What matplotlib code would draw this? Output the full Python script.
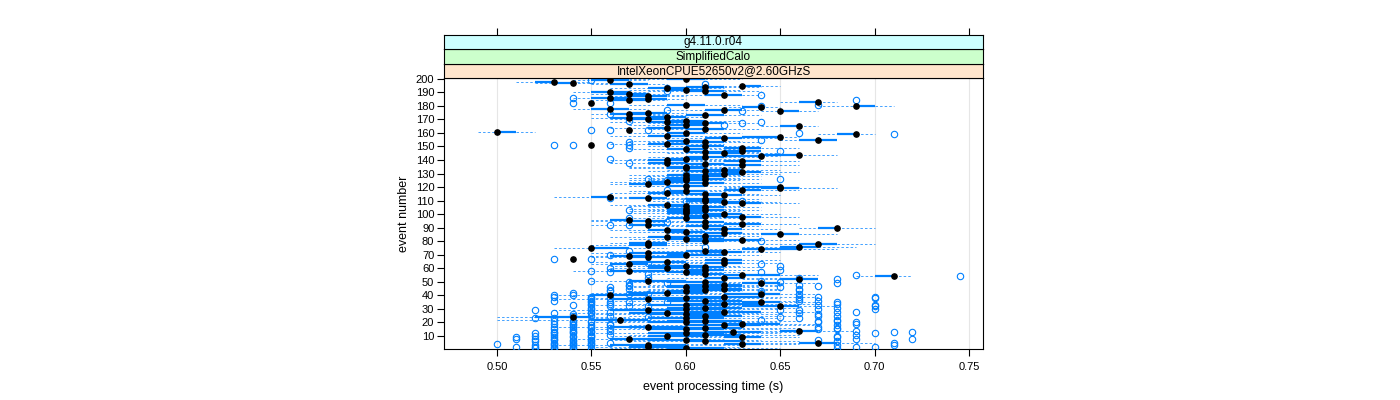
import matplotlib
matplotlib.use("Agg")
import matplotlib.pyplot as plt

plt.rcParams['font.family'] = ['Liberation Sans', 'DejaVu Sans']

# strip labels (top to bottom)
strips = ["g4.11.0.r04", "SimplifiedCalo", "IntelXeonCPUE52650v2@2.60GHzS"]
strip_colors = ["#CCFFFF", "#CCFFCC", "#FFE5CC"]

# per-event box statistics, in units of 0.01 s, events 1..200
med = [60, 58, 58, 63, 67, 61, 60, 57, 63, 59,
       61, 60, 62.5, 66, 60, 61, 58, 62, 63, 60,
       61, 56.5, 60, 54, 61, 60, 59, 62, 58, 60,
       61, 65, 60, 62, 64, 61, 58, 60, 62, 56,
       64, 59, 60, 61, 62, 60, 61, 62, 64, 61,
       58, 66, 62, 71, 63, 61, 60, 57, 61, 59,
       61, 60, 57, 62, 59, 62, 54, 58, 57, 60,
       58, 62, 61, 64, 55, 66, 58, 67, 58, 61,
       63, 60, 59, 61, 65, 62, 60, 59, 62, 68,
       61, 58, 63, 61, 58, 57, 60, 63, 61, 62,
       60, 60, 61, 60, 61, 60, 59, 63, 62, 61,
       61, 58, 56, 62, 61, 59, 60, 63, 65, 65,
       60, 58, 61, 59, 60, 61, 60, 61, 60, 62,
       63, 61, 62, 60, 60, 63, 61, 59, 63, 59,
       60, 61, 64, 66, 62, 61, 63, 60, 63, 61,
       55, 59, 61, 60, 67, 62, 65, 59, 69, 60,
       50, 57, 61, 59, 66, 60, 61, 59, 60, 58,
       57, 59, 61, 57, 58, 65, 62, 56, 64, 69,
       60, 55, 67, 57, 58, 56, 58, 62, 57, 56,
       61, 60, 59, 61, 63, 57, 54, 53, 56, 60]

q1 = [59, 57, 56, 62, 66, 60, 58, 56, 62, 58,
      59, 58, 61, 65, 58, 60, 56, 60, 62, 58,
      59, 55, 58, 52, 60, 58, 57, 60, 56, 59,
      59, 63, 58, 60, 63, 59, 56, 58, 60, 55,
      62, 57, 59, 60, 60, 59, 59, 60, 63, 59,
      57, 65, 61, 70, 62, 60, 59, 56, 60, 58,
      60, 58, 56, 61, 57, 61, 54, 57, 56, 59,
      57, 61, 60, 63, 55, 65, 57, 66, 57, 60,
      62, 59, 58, 60, 64, 61, 59, 58, 61, 67,
      60, 57, 62, 60, 57, 56, 59, 62, 60, 61,
      59, 59, 60, 59, 60, 59, 58, 62, 61, 60,
      60, 57, 55, 61, 60, 58, 59, 62, 64, 63,
      59, 57, 60, 58, 59, 60, 59, 60, 59, 61,
      62, 60, 61, 59, 59, 62, 60, 58, 62, 58,
      59, 60, 62, 64, 61, 60, 62, 59, 62, 60,
      55, 58, 60, 59, 66, 61, 63, 58, 68, 59,
      50, 57, 60, 58, 65, 59, 60, 58, 59, 57,
      56, 58, 60, 56, 57, 65, 61, 55, 63, 69,
      59, 55, 66, 56, 57, 55, 57, 61, 56, 55,
      60, 59, 58, 60, 63, 56, 53, 52, 55, 59]

q3 = [62, 60, 60, 64, 68, 63, 61, 59, 64, 61,
      63, 62, 64, 67, 62, 63, 60, 64, 65, 62,
      63, 58, 62, 55, 63, 62, 61, 64, 60, 62,
      63, 66, 62, 64, 65, 63, 60, 62, 64, 58,
      65, 61, 61, 63, 63, 62, 63, 63, 65, 62,
      60, 67, 63, 71, 65, 62, 61, 59, 62, 60,
      62, 61, 58, 63, 60, 63, 54, 60, 58, 62,
      60, 63, 62, 66, 57, 67, 59, 68, 59, 62,
      64, 62, 60, 62, 66, 63, 61, 60, 63, 68,
      62, 59, 64, 62, 59, 57, 61, 64, 62, 63,
      61, 61, 62, 61, 62, 61, 60, 64, 63, 62,
      62, 59, 56, 63, 62, 60, 61, 64, 66, 65,
      61, 59, 62, 60, 61, 62, 61, 62, 61, 63,
      64, 62, 63, 61, 61, 64, 62, 60, 64, 60,
      61, 62, 64, 66, 63, 62, 64, 61, 64, 62,
      55, 60, 62, 61, 68, 63, 65, 60, 69, 61,
      51, 57, 62, 60, 66, 61, 62, 60, 61, 59,
      58, 60, 62, 58, 59, 66, 63, 57, 64, 70,
      61, 55, 67, 58, 59, 57, 59, 63, 58, 57,
      62, 61, 60, 62, 64, 58, 54, 53, 57, 61]

lo = [56, 55, 53, 60, 64, 57, 56, 54, 60, 56,
      57, 55, 59, 63, 55, 57, 53, 57, 60, 55,
      56, 50, 55, 50, 57, 55, 54, 57, 53, 56,
      56, 60, 55, 57, 61, 56, 53, 55, 57, 53,
      60, 55, 57, 58, 58, 57, 57, 58, 61, 57,
      55, 63, 59, 69, 60, 58, 57, 54, 58, 56,
      58, 56, 55, 59, 55, 59, 54, 55, 55, 57,
      55, 59, 58, 61, 53, 63, 55, 64, 56, 58,
      60, 57, 56, 58, 62, 59, 57, 56, 59, 66,
      58, 55, 60, 58, 55, 55, 57, 60, 58, 59,
      57, 57, 58, 57, 58, 57, 56, 60, 59, 58,
      58, 56, 53, 59, 58, 56, 57, 60, 62, 62,
      57, 56, 58, 56, 57, 58, 57, 58, 57, 59,
      60, 58, 59, 57, 57, 60, 58, 56, 60, 56,
      57, 58, 61, 63, 59, 58, 60, 57, 60, 58,
      55, 56, 58, 57, 65, 59, 62, 56, 67, 57,
      49, 57, 58, 56, 64, 57, 58, 56, 58, 56,
      55, 56, 58, 55, 56, 64, 59, 54, 62, 67,
      57, 55, 65, 55, 56, 54, 56, 59, 55, 54,
      58, 57, 56, 58, 62, 55, 52, 51, 54, 57]

hi = [65, 63, 63, 66, 70, 66, 64, 62, 66, 64,
      66, 65, 66, 69, 65, 66, 63, 67, 67, 65,
      66, 62, 65, 57, 66, 65, 64, 67, 63, 65,
      66, 68, 65, 67, 67, 66, 63, 65, 67, 60,
      67, 63, 63, 65, 65, 64, 65, 65, 67, 64,
      62, 67, 65, 72, 67, 64, 63, 61, 64, 62,
      64, 63, 59, 65, 62, 65, 54, 62, 60, 64,
      62, 65, 64, 68, 59, 69, 61, 70, 61, 64,
      66, 64, 62, 64, 68, 65, 63, 62, 65, 70,
      64, 61, 66, 64, 61, 58, 63, 66, 64, 65,
      63, 63, 64, 63, 64, 63, 62, 66, 65, 64,
      64, 60, 57, 65, 64, 62, 63, 66, 68, 66,
      63, 59, 64, 62, 63, 64, 63, 64, 63, 65,
      66, 64, 65, 63, 63, 66, 64, 62, 66, 62,
      63, 64, 65, 68, 65, 64, 64, 63, 66, 64,
      55, 62, 64, 63, 68, 65, 66, 62, 70, 63,
      52, 57, 64, 62, 67, 61, 64, 62, 63, 60,
      59, 61, 64, 59, 60, 67, 64, 58, 65, 71,
      63, 55, 68, 59, 60, 58, 60, 64, 59, 58,
      64, 63, 62, 64, 65, 59, 56, 55, 58, 63]

# outlying events, in units of 0.01 s
outliers = {
    1: [52, 53, 54, 55, 68], 2: [51, 52, 53, 54, 69, 70], 3: [52, 53, 54, 55, 68, 71],
    4: [50, 53, 54, 55], 5: [53, 54, 55, 56, 71], 6: [52, 54, 55, 68],
    7: [53, 54, 55, 67], 8: [51, 52, 53, 69, 72], 9: [51, 53, 54, 55, 68],
    10: [52, 54, 55, 68], 11: [53, 55, 56, 69], 12: [52, 53, 54, 70],
    13: [53, 54, 55, 71, 72], 14: [54, 55, 56, 69], 15: [53, 54, 67, 68],
    16: [55, 56, 68], 17: [53, 54, 55, 67], 18: [54, 55, 56, 68],
    19: [53, 54, 56, 69], 20: [54, 55, 67, 69], 21: [53, 54, 55, 67, 68],
    22: [64, 68], 23: [52, 53, 66], 24: [58, 65], 25: [54, 55, 56, 67, 68],
    26: [54, 67], 27: [53, 55, 66], 28: [55, 56, 68, 69], 29: [52, 65, 66],
    30: [55, 67, 70], 31: [55, 68], 32: [56, 57, 58, 70], 33: [54, 55, 67, 70],
    34: [55, 56, 68], 35: [55, 56, 57, 59, 68], 36: [53, 55, 66, 67],
    37: [55, 66], 38: [55, 56, 70], 39: [53, 55, 66, 67, 70], 40: [53, 54],
    41: [57, 58, 66], 42: [54, 64], 43: [56, 64], 44: [56, 66], 45: [57, 66],
    46: [56, 65], 47: [57, 67], 48: [57, 66], 49: [59, 68], 50: [57, 65],
    51: [55, 64], 52: [68], 53: [58, 66], 54: [74.5], 55: [69], 56: [58],
    57: [56, 64], 58: [55], 59: [65], 60: [56], 62: [65], 63: [64], 64: [58],
    67: [53, 55], 70: [56], 73: [57], 76: [61], 80: [64], 82: [61], 92: [56, 57],
    94: [59], 97: [57], 103: [57], 110: [60, 63], 112: [56], 118: [59],
    125: [59], 126: [58, 65], 130: [60], 138: [57], 141: [56], 147: [65],
    149: [57], 151: [53, 54, 56, 57], 153: [57], 155: [64], 159: [71], 160: [66],
    162: [55, 56, 58], 166: [62], 167: [63], 168: [64], 169: [57], 174: [56],
    176: [63], 177: [59], 180: [64], 181: [67], 182: [54, 56], 184: [69],
    186: [54], 188: [64], 191: [59], 193: [59], 196: [61], 199: [55],
}

events = list(range(1, len(med) + 1))
blue = "#0080ff"

fig = plt.figure(figsize=(14, 4), dpi=100)
L, R = 444 / 1400, 983 / 1400
B, T = 1 - 349 / 400, 1 - 78 / 400
ax = fig.add_axes([L, B, R - L, T - B])

for v in [0.50, 0.55, 0.60, 0.65, 0.70, 0.75]:
    ax.axvline(v, color="#e6e6e6", lw=0.8, zorder=0)

for i, ev in enumerate(events):
    # dashed whiskers, solid box line, open outliers, black median dot
    ax.plot([lo[i] / 100, q1[i] / 100], [ev, ev], color=blue, lw=0.6,
            ls=(0, (3, 2.5)), alpha=0.85, zorder=2)
    ax.plot([q3[i] / 100, hi[i] / 100], [ev, ev], color=blue, lw=0.6,
            ls=(0, (3, 2.5)), alpha=0.85, zorder=2)
    ax.plot([q1[i] / 100, q3[i] / 100], [ev, ev], color=blue, lw=1.6,
            solid_capstyle="butt", zorder=3)
    for o in outliers.get(ev, []):
        ax.plot(o / 100, ev, "o", mfc="none", mec=blue, ms=4.6, mew=0.8, zorder=4)
    ax.plot(med[i] / 100, ev, "o", color="black", ms=3.8, zorder=5)

ax.set_xlim(0.4719, 0.7574)
ax.set_ylim(0.4, 200.6)
ax.set_xticks([0.50, 0.55, 0.60, 0.65, 0.70, 0.75])
ax.set_xticklabels(["0.50", "0.55", "0.60", "0.65", "0.70", "0.75"])
ax.set_yticks(range(10, 201, 10))
ax.tick_params(axis="both", direction="out", length=5, width=0.8,
               labelsize=8, colors="black")
ax.tick_params(axis="y", right=False, pad=2)
ax.tick_params(axis="x", top=False, pad=4)
for s in ax.spines.values():
    s.set_linewidth(0.8)
ax.set_xlabel("event processing time (s)", fontsize=9, labelpad=7)
ax.set_ylabel("event number", fontsize=9, labelpad=4)

# strips above the panel
sh = 14.5 / 400
for k, (label, col) in enumerate(zip(strips[::-1], strip_colors[::-1])):
    sax = fig.add_axes([L, T + k * sh, R - L, sh])
    sax.set_facecolor(col)
    sax.set_xticks([])
    sax.set_yticks([])
    for s in sax.spines.values():
        s.set_linewidth(0.8)
    sax.text(0.5, 0.45, label, ha="center", va="center", fontsize=8.5,
             transform=sax.transAxes)

# top tick marks drawn above the strips
tax = fig.add_axes([L, B, R - L, T + 3 * sh - B])
tax.set_xlim(ax.get_xlim())
tax.patch.set_visible(False)
for s in tax.spines.values():
    s.set_visible(False)
tax.set_yticks([])
tax.set_xticks(ax.get_xticks())
tax.tick_params(axis="x", top=True, bottom=False, labeltop=False,
                labelbottom=False, direction="out", length=5, width=0.8)
tax.set_zorder(-1)

fig.savefig("out.png", dpi=100)
